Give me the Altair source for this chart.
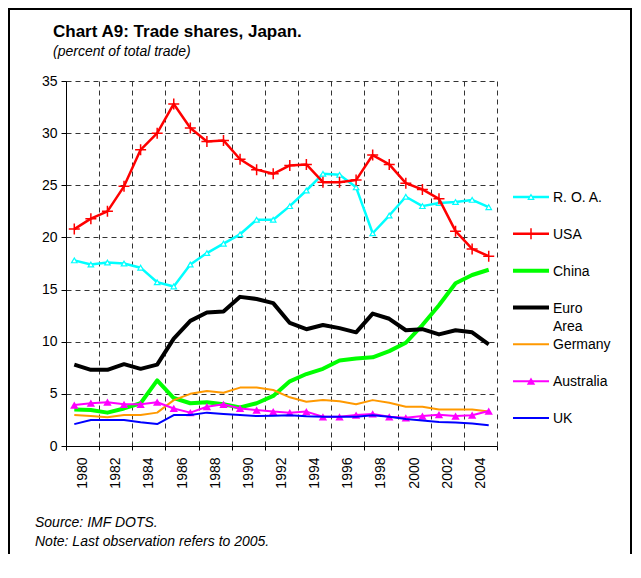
import altair as alt
import pandas as pd

# ---------------- data ----------------
years = list(range(1980, 2006))
roa = [17.8, 17.4, 17.6, 17.5, 17.1, 15.7, 15.3, 17.4, 18.5, 19.4, 20.3, 21.7, 21.7,
       23.0, 24.5, 26.1, 26.0, 24.8, 20.4, 22.1, 23.9, 23.0, 23.3, 23.4, 23.6, 22.9]
usa = [20.8, 21.8, 22.5, 24.9, 28.4, 30.0, 32.8, 30.5, 29.2, 29.3, 27.5, 26.5, 26.1,
       26.9, 27.0, 25.3, 25.3, 25.5, 27.9, 27.0, 25.2, 24.6, 23.7, 20.6, 18.9, 18.2]
china = [3.5, 3.45, 3.2, 3.6, 4.1, 6.3, 4.6, 4.1, 4.2, 4.0, 3.7, 4.1, 4.8,
         6.2, 6.9, 7.4, 8.2, 8.4, 8.5, 9.1, 9.9, 11.6, 13.5, 15.6, 16.4, 16.9]
euro = [7.8, 7.3, 7.3, 7.85, 7.4, 7.8, 10.3, 12.0, 12.8, 12.9, 14.3, 14.1, 13.7,
        11.8, 11.2, 11.6, 11.3, 10.9, 12.7, 12.2, 11.1, 11.2, 10.7, 11.1, 10.9, 9.75]
germany = [2.97, 2.87, 2.75, 2.97, 2.97, 3.2, 4.4, 5.0, 5.27, 5.1, 5.6, 5.6, 5.37,
           4.67, 4.25, 4.4, 4.3, 4.0, 4.4, 4.15, 3.77, 3.77, 3.5, 3.5, 3.5, 3.3]
australia = [3.93, 4.1, 4.2, 4.0, 4.0, 4.2, 3.6, 3.2, 3.77, 4.0, 3.6, 3.45, 3.3,
             3.2, 3.3, 2.8, 2.8, 2.97, 3.07, 2.8, 2.7, 2.87, 3.0, 2.87, 2.95, 3.35]
uk = [2.1, 2.5, 2.5, 2.5, 2.27, 2.1, 2.97, 2.97, 3.2, 3.07, 2.97, 2.87, 2.9,
      2.95, 2.85, 2.8, 2.8, 2.8, 2.95, 2.8, 2.6, 2.45, 2.3, 2.25, 2.15, 2.0]

names = ["R. O. A.", "USA", "China", "Euro Area", "Germany", "Australia", "UK"]
legend_labels = ["R. O. A.", "USA", "China", "Euro\nArea", "Germany", "Australia", "UK"]
series_values = [roa, usa, china, euro, germany, australia, uk]

y_ticks = [0, 5, 10, 15, 20, 25, 30, 35]
x_bounds = [1979.5 + 2 * i for i in range(14)]

title_text = "Chart A9: Trade shares, Japan."
subtitle_text = "(percent of total trade)"
source_text = "Source: IMF DOTS."
note_text = "Note: Last observation refers to 2005."

# ---------------- styles ----------------
FONT = "Liberation Sans"
colors = {"R. O. A.": "#00FFFF", "USA": "#FF0000", "China": "#00FF00",
          "Euro Area": "#000000", "Germany": "#FF9900", "Australia": "#FF00FF",
          "UK": "#0000FF"}
widths = {"R. O. A.": 2.5, "USA": 2.5, "China": 4, "Euro Area": 4,
          "Germany": 2, "Australia": 2, "UK": 2}

W, H = 431, 365
PAD = {"left": 58, "top": 73, "right": 135, "bottom": 116}

df = pd.DataFrame([
    {"series": n, "year": yr, "value": v}
    for n, vals in zip(names, series_values) for yr, v in zip(years, vals)
])
leg = pd.DataFrame({"series": names, "label": legend_labels})

X = alt.X("year:Q",
          scale=alt.Scale(domain=[1979.5, 2005.5], nice=False, zero=False),
          axis=alt.Axis(values=x_bounds, title=None,
                        labelExpr="datum.value < 2005 ? format(datum.value + 0.5, 'd') : ''",
                        labelOffset=W / 26, labelAngle=270, labelAlign="right",
                        labelBaseline="middle", labelPadding=7, labelOverlap=False,
                        labelFontSize=14, labelFont=FONT, labelColor="black",
                        tickSize=4, tickColor="black", domainColor="black",
                        grid=True, gridDash=[5, 4], gridColor="#333333",
                        gridOpacity=1))
Y = alt.Y("value:Q",
          scale=alt.Scale(domain=[0, 35], nice=False),
          axis=alt.Axis(values=y_ticks, title=None, labelPadding=4,
                        labelFontSize=14, labelFont=FONT, labelColor="black",
                        tickSize=5, tickColor="black", domainColor="black",
                        grid=True, gridDash=[5, 4], gridColor="#333333",
                        gridOpacity=1))

base = alt.Chart(df)
plot_layers = []
for n in names:
    sub = base.transform_filter(alt.datum.series == n)
    plot_layers.append(
        sub.mark_line(color=colors[n], strokeWidth=widths[n], strokeJoin="round")
        .encode(x=X, y=Y))
    if n == "R. O. A.":
        plot_layers.append(sub.mark_point(shape="triangle-up", size=30, filled=True,
                                          fill="white", stroke=colors[n],
                                          strokeWidth=1.2, opacity=1).encode(x=X, y=Y))
    elif n == "USA":
        plot_layers.append(sub.mark_point(shape="M-1,0H1M0,-1V1", size=121,
                                          filled=False, stroke=colors[n],
                                          strokeWidth=1.5, opacity=1).encode(x=X, y=Y))
    elif n == "Australia":
        plot_layers.append(sub.mark_point(shape="triangle-up", size=70, filled=True,
                                          color=colors[n], opacity=1).encode(x=X, y=Y))
plot = alt.layer(*plot_layers)

# ---------------- legend ----------------
LY = alt.Y("series:N", sort=names,
           scale=alt.Scale(type="point", domain=names, range=[116, 337], padding=0),
           axis=None)
lbase = alt.Chart(leg)
legend_layers = []
for n in names:
    sub = lbase.transform_filter(alt.datum.series == n)
    legend_layers.append(sub.mark_rule(color=colors[n], strokeWidth=widths[n])
                         .encode(x=alt.value(447), x2=alt.value(483), y=LY))
    if n == "R. O. A.":
        legend_layers.append(sub.mark_point(shape="triangle-up", size=30, filled=True,
                                            fill="white", stroke=colors[n],
                                            strokeWidth=1.2, opacity=1)
                             .encode(x=alt.value(465), y=LY))
    elif n == "USA":
        legend_layers.append(sub.mark_point(shape="M-1,0H1M0,-1V1", size=121,
                                            filled=False, stroke=colors[n],
                                            strokeWidth=1.5, opacity=1)
                             .encode(x=alt.value(465), y=LY))
    elif n == "Australia":
        legend_layers.append(sub.mark_point(shape="triangle-up", size=70, filled=True,
                                            color=colors[n], opacity=1)
                             .encode(x=alt.value(465), y=LY))
legend_layers.append(
    lbase.mark_text(align="left", baseline="top", dy=-6, lineBreak="\n",
                    lineHeight=18, fontSize=14, font=FONT, color="black")
    .encode(x=alt.value(487), y=LY, text="label:N"))
legend = alt.layer(*legend_layers)


def label(txt, x, y, size, weight="normal", style="normal"):
    return alt.Chart(pd.DataFrame({"t": [txt]})).mark_text(
        align="left", baseline="alphabetic", fontSize=size, font=FONT,
        fontWeight=weight, fontStyle=style, color="black"
    ).encode(x=alt.value(x), y=alt.value(y), text="t:N")


texts = [
    label(title_text, -13, -44, 17, weight="bold"),
    label(subtitle_text, -13, -25, 14, style="italic"),
    label(source_text, -31, 446, 14, style="italic"),
    label(note_text, -31, 465, 14, style="italic"),
]

# outer frame: left, top and right edges (bottom edge lies below the picture)
frame_df = pd.DataFrame({"b": [0]})
RIGHT = W + PAD["right"] - 1
BOTTOM = H + PAD["bottom"] - 8
frame = [
    alt.Chart(frame_df).mark_rule(color="black", strokeWidth=2)
    .encode(x=alt.value(-57), y=alt.value(-72), y2=alt.value(BOTTOM)),
    alt.Chart(frame_df).mark_rule(color="black", strokeWidth=2)
    .encode(x=alt.value(RIGHT), y=alt.value(-72), y2=alt.value(BOTTOM)),
    alt.Chart(frame_df).mark_rule(color="black", strokeWidth=2)
    .encode(x=alt.value(-58), x2=alt.value(RIGHT + 1), y=alt.value(-72)),
]

chart = alt.layer(plot, legend, *texts, *frame).resolve_scale(
    y="independent"
).properties(
    width=W, height=H,
    autosize=alt.AutoSizeParams(type="none"),
    padding=PAD,
).configure_view(strokeWidth=0)

chart.save("out.html", embed_options={"renderer": "svg", "actions": False})
